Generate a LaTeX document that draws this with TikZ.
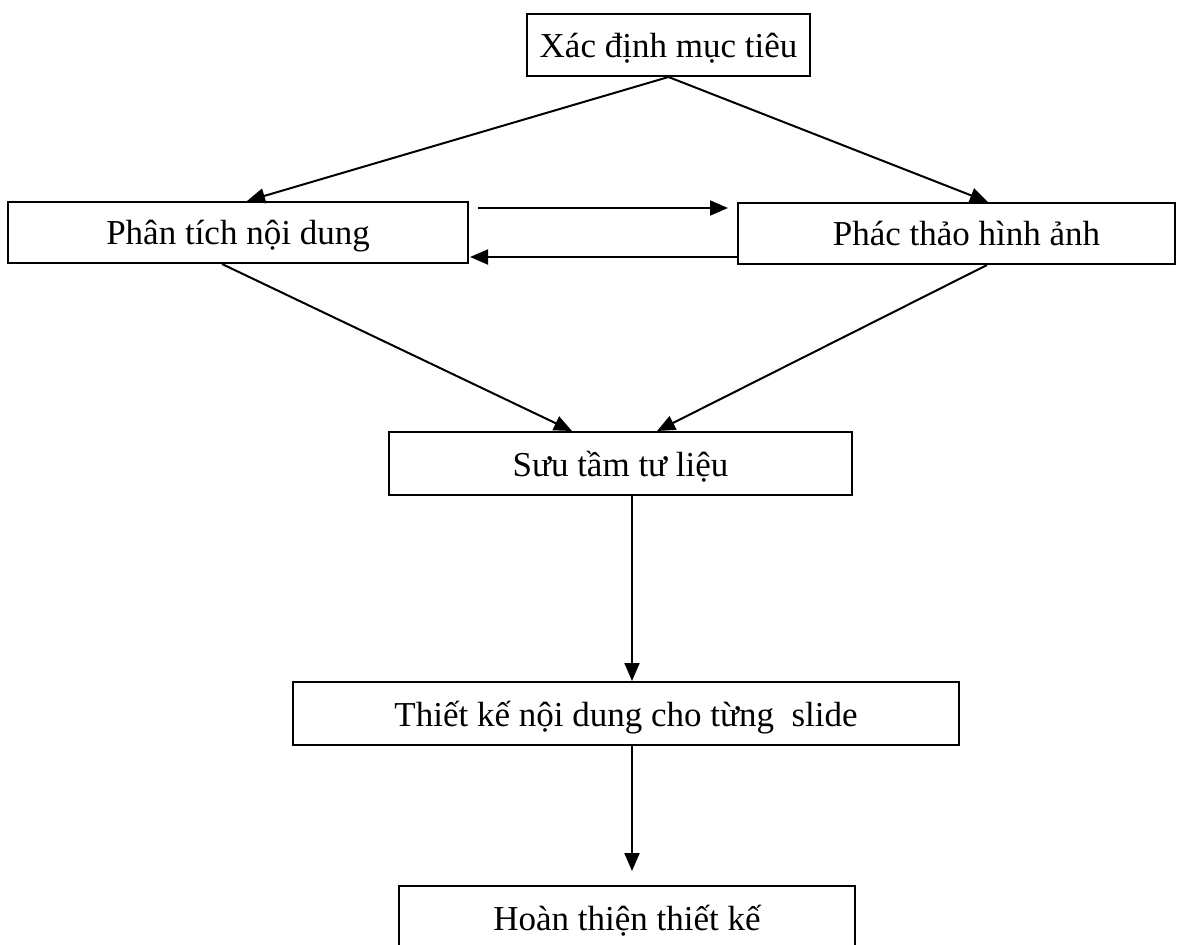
\documentclass[tikz,border=0pt]{standalone}
\usepackage{fontspec}
\setmainfont{Liberation Serif}
\usetikzlibrary{arrows.meta,calc}
\begin{document}
\begin{tikzpicture}[x=1pt,y=-1pt,
  box/.style={draw,line width=2pt,inner sep=0pt,text depth=0pt,font=\fontsize{35}{40}\selectfont},
  arr/.style={line width=2pt,-{Triangle[length=18pt,width=15pt]}}]
\useasboundingbox (0,0) rectangle (1187,945);
\node[box,minimum width=283pt,minimum height=62pt] (b1) at (668.5,45) {Xác định mục tiêu};
\node[box,minimum width=460pt,minimum height=61pt] (b2) at (238,232.5) {Phân tích nội dung};
\node[box,minimum width=437pt,minimum height=61pt] (b3) at (956.5,233.5) {\hspace*{20pt}Phác thảo hình ảnh};
\node[box,minimum width=463pt,minimum height=63pt] (b4) at (620.5,463.5) {Sưu tầm tư liệu};
\node[box,minimum width=666pt,minimum height=63pt] (b5) at (626,713.5) {Thiết kế nội dung cho từng\ \ slide};
\node[box,minimum width=456pt,minimum height=63pt] (b6) at (627,917.5) {Hoàn thiện thiết kế};
\coordinate (v) at (632,0);
\draw[arr] (b1.south) -- ([xshift=9pt]b2.north);
\draw[arr] (b1.south) -- ([xshift=31.5pt]b3.north);
\draw[arr] ($(b2.north east)+(9,7)$) -- ($(b3.north west)+(-9,6)$);
\draw[arr] ($(b3.south west)+(0,-8)$) -- ($(b2.south east)+(1,-7)$);
\draw[arr] ([xshift=-16pt]b2.south) -- ([xshift=-48.5pt]b4.north);
\draw[arr] ([xshift=30.5pt]b3.south) -- ([xshift=36.5pt]b4.north);
\draw[arr] (b4.south -| v) -- (b5.north -| v);
\draw[arr] (b5.south -| v) -- ($(b6.north -| v)+(0,-14)$);
\end{tikzpicture}
\end{document}
